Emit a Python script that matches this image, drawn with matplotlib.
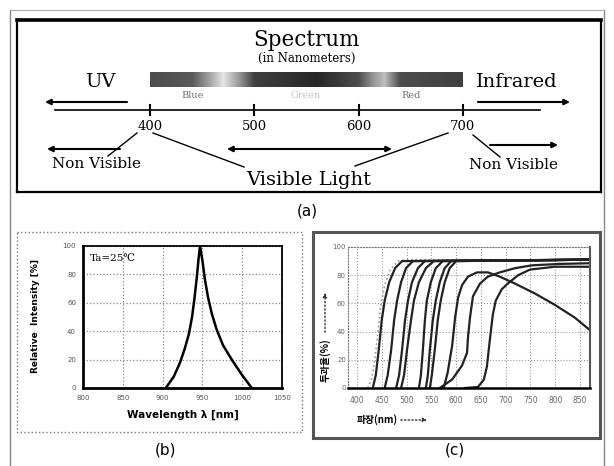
import numpy as np
import matplotlib.pyplot as plt
from matplotlib.patches import Rectangle

W, H = 614, 466

# ---------------- (a) spectrum diagram ----------------
spec_ticks = [400, 500, 600, 700]
band_names = ['Blue', 'Green', 'Red']
band_nm = [441, 549, 650]
band_colors = ['#6e6e6e', '#c4c4c4', '#6e6e6e']
bar_nm = [400, 440, 455, 470, 485, 500, 560, 600, 615, 625, 640, 700]
bar_gray = [0.30, 0.35, 0.60, 0.90, 0.60, 0.25, 0.15, 0.30, 0.60, 0.75, 0.30, 0.25]

# ---------------- (b) LED emission spectrum ----------------
led_nm = [904, 914, 922, 928, 933, 937, 940, 943, 945, 947, 950, 953, 957, 962, 968, 976, 988, 1000, 1012]
led_int = [0, 8, 18, 28, 38, 50, 63, 78, 90, 100, 90, 77, 64, 52, 41, 30, 19, 9, 0]
b_xticks = [800, 850, 900, 950, 1000, 1050]
b_yticks = [0, 20, 40, 60, 80, 100]

# ---------------- (c) filter transmission curves ----------------
filt_dotted = ([422, 430, 436, 442, 448, 456, 467, 483, 500, 870],
               [0, 7, 20, 38, 59, 73, 84, 90, 91, 91])
filt_nm = [
    [432, 438, 444, 450, 456, 465, 477, 491, 870],
    [456, 462, 469, 475, 481, 489, 499, 513, 870],
    [479, 485, 491, 497, 503, 511, 523, 537, 870],
    [489, 495, 501, 509, 515, 525, 539, 555, 870],
    [525, 529, 533, 537, 541, 549, 559, 573, 870],
    [539, 543, 547, 553, 559, 567, 577, 590, 870],
    [547, 551, 557, 563, 569, 577, 587, 600, 870],
]
filt_T = [0, 9, 27, 48, 62, 75, 85, 90, 91]
hump_nm = [575, 583, 592, 598, 604, 612, 624, 642, 664, 688, 719, 759, 799, 839, 870]
hump_T = [0, 11, 30, 50, 64, 73, 79, 82, 82, 79, 74, 67, 59, 50, 41]
curveA_nm = [567, 592, 612, 622, 624, 628, 634, 648, 664, 688, 719, 753, 809, 870]
curveA_T = [0, 6, 16, 25, 36, 50, 65, 74, 79, 82, 85, 87, 88, 88.5]
curveB_nm = [618, 644, 656, 662, 668, 674, 680, 692, 704, 725, 749, 799, 870]
curveB_T = [0, 0.7, 6, 15, 34, 52, 62, 70, 74, 80, 84, 86, 86]
c_xticks = [400, 450, 500, 550, 600, 650, 700, 750, 800, 850]
c_yticks = [0, 20, 40, 60, 80, 100]

serif = 'DejaVu Serif'
kr = ['Noto Sans CJK KR', 'DejaVu Sans']

fig = plt.figure(figsize=(W / 100, H / 100), dpi=100)


def px_axes(x0, y0, x1, y1, **kw):
    return fig.add_axes([x0 / W, 1 - y1 / H, (x1 - x0) / W, (y1 - y0) / H], **kw)


# ---- panel (a)
ax_a = px_axes(17, 20, 601, 192)
ax_a.set_facecolor('none')
grid_nm = np.linspace(400, 700, 301)
ax_a.imshow(np.interp(grid_nm, bar_nm, bar_gray)[None, :], cmap='gray', vmin=0, vmax=1,
            extent=[400, 700, 87, 72], aspect='auto', interpolation='bilinear')
ax_a.set_xlim(272.5, 832.3)
ax_a.set_ylim(192, 20)
ax_a.set_xticks([])
ax_a.set_yticks([])
for s in ax_a.spines.values():
    s.set_linewidth(1.6)
ax_a.spines['top'].set_linewidth(2.6)
ax_a.text(550, 40, 'Spectrum', ha='center', va='center', fontsize=15.5, family=serif)
ax_a.text(550, 58, '(in Nanometers)', ha='center', va='center', fontsize=8.5, family=serif)
ax_a.text(352, 82, 'UV', ha='center', va='center', fontsize=14, family=serif)
ax_a.text(752, 82, 'Infrared', ha='center', va='center', fontsize=14, family=serif)
for name, pos, col in zip(band_names, band_nm, band_colors):
    ax_a.text(pos, 95, name, ha='center', va='center', fontsize=7, family=serif, color=col)
ax_a.plot([309, 774], [110, 110], color='k', lw=1.2)
for t in spec_ticks:
    ax_a.plot([t, t], [105, 115], color='k', lw=1.5)
    ax_a.text(t, 127, str(t), ha='center', va='center', fontsize=9.5, family=serif)
ax_a.text(349, 164, 'Non Visible', ha='center', va='center', fontsize=11, family=serif)
ax_a.text(748, 165, 'Non Visible', ha='center', va='center', fontsize=11, family=serif)
ax_a.text(552, 180, 'Visible Light', ha='center', va='center', fontsize=14, family=serif)

# ---- panel (b)
ax_b = px_axes(83, 246, 282, 388)
ax_b.set_facecolor('none')
ax_b.plot(led_nm, led_int, color='k', lw=1.8)
ax_b.set_xlim(800, 1050)
ax_b.set_ylim(0, 100)
ax_b.set_xticks(b_xticks)
ax_b.set_yticks(b_yticks)
ax_b.grid(True, ls=':', color='#888888', lw=0.9)
ax_b.tick_params(length=0, labelsize=5, labelcolor='#555555', pad=5)
for s in ax_b.spines.values():
    s.set_linewidth(1.3)
ax_b.spines['left'].set_linewidth(2)
ax_b.spines['bottom'].set_linewidth(2)
ax_b.text(0.035, 0.915, 'Ta=25℃', transform=ax_b.transAxes, fontsize=7.5, family=serif, va='center')

# ---- panel (c)
ax_c = px_axes(348, 247, 590, 388)
ax_c.set_facecolor('none')
ax_c.plot(*filt_dotted, color='#999999', lw=1.2, ls=':')
for xs in filt_nm:
    ax_c.plot(xs, filt_T, color='#222222', lw=1.6)
ax_c.plot(hump_nm, hump_T, color='#222222', lw=1.6)
ax_c.plot(curveA_nm, curveA_T, color='#222222', lw=1.6)
ax_c.plot(curveB_nm, curveB_T, color='#222222', lw=1.6)
ax_c.set_xlim(382, 870)
ax_c.set_ylim(0, 100)
ax_c.set_xticks(c_xticks)
ax_c.set_yticks(c_yticks)
ax_c.grid(True, ls=':', color='#999999', lw=0.8)
ax_c.tick_params(axis='x', length=0, labelsize=5.5, labelcolor='#666666', pad=6)
ax_c.tick_params(axis='y', length=0, labelsize=5, labelcolor='#666666', pad=1.5)
for k in ['left', 'top']:
    ax_c.spines[k].set_linestyle(':')
    ax_c.spines[k].set_color('#777777')
ax_c.spines['right'].set_color('#555555')
ax_c.spines['right'].set_linewidth(1.5)
ax_c.spines['bottom'].set_linewidth(1.8)

# ---- overlay: frames, arrows, captions (pixel coords)
ov = px_axes(0, 0, W, H)
ov.set_facecolor('none')
ov.set_xlim(0, W)
ov.set_ylim(H, 0)
ov.axis('off')
ov.plot([10, 10], [10, 466], color='#888888', lw=1)
ov.plot([604, 604], [10, 466], color='#888888', lw=1)
ov.plot([10, 604], [10, 10], color='#aaaaaa', lw=0.8)
ov.add_patch(Rectangle((17, 232), 285, 200, fill=False, ls=':', ec='#777777', lw=1))
ov.add_patch(Rectangle((313, 232), 287, 206, fill=False, ec='#555555', lw=2.2))

arrow = dict(arrowstyle='-|>', color='k', lw=1.5, mutation_scale=8, shrinkA=0, shrinkB=0)
for a, b in [((127, 102), (45, 102)), ((478, 102), (570, 102)),
             ((120, 149), (47, 149)), ((490, 145), (558, 145))]:
    ov.annotate('', xy=b, xytext=a, arrowprops=arrow)
ov.annotate('', xy=(392, 149), xytext=(227, 149),
            arrowprops=dict(arrowstyle='<|-|>', color='k', lw=1.5, mutation_scale=8, shrinkA=0, shrinkB=0))
for (x0, y0), (x1, y1) in [((137, 133), (108, 156)), ((153, 133), (244, 167)),
                           ((448, 133), (355, 166)), ((473, 135), (500, 157))]:
    ov.plot([x0, x1], [y0, y1], color='k', lw=1)

ov.text(307, 211, '(a)', ha='center', va='center', fontsize=11)
ov.text(165, 450, '(b)', ha='center', va='center', fontsize=11)
ov.text(455, 450, '(c)', ha='center', va='center', fontsize=11)

ov.text(183, 415, 'Wavelength λ [nm]', ha='center', va='center', fontsize=7.5, weight='bold')
ov.text(35, 316, 'Relative  Intensity [%]', ha='center', va='center', fontsize=6.5,
        weight='bold', rotation=90)

ov.text(325, 360, '투과율(%)', ha='center', va='center', fontsize=7, weight='bold',
        rotation=90, family=kr)
ov.annotate('', xy=(325, 290), xytext=(325, 335),
            arrowprops=dict(arrowstyle='-|>', color='#333333', lw=1, ls=':', mutation_scale=6))
ov.text(377, 420, '파장(nm)', ha='center', va='center', fontsize=7, weight='bold', family=kr)
ov.annotate('', xy=(430, 420), xytext=(398, 420),
            arrowprops=dict(arrowstyle='-|>', color='#333333', lw=1, ls=':', mutation_scale=6))

fig.savefig('out.png', dpi=100)
